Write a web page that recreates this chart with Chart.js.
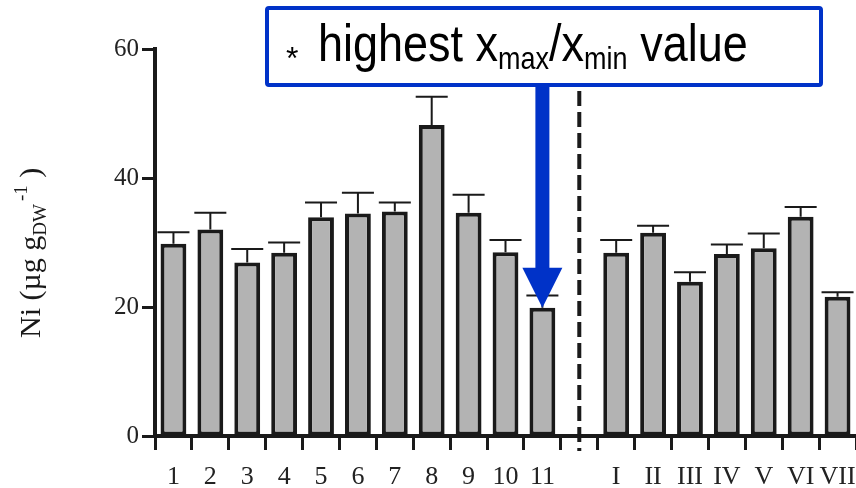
<!DOCTYPE html>
<html>
<head>
<meta charset="utf-8">
<script src="https://cdn.jsdelivr.net/npm/chart.js@4.4.0/dist/chart.umd.min.js"></script>
<style>
  html, body { margin: 0; padding: 0; background: #fff; }
  #wrap { width: 856px; height: 488px; }
</style>
</head>
<body>
<div id="wrap"><canvas id="myChart" width="856" height="488"></canvas></div>
<script>
// sites 1-11, an empty slot for the divider, then sites I-VII
const labels = ['1', '2', '3', '4', '5', '6', '7', '8', '9', '10', '11', '', 'I', 'II', 'III', 'IV', 'V', 'VI', 'VII'];
const means = [29.8, 32.0, 26.9, 28.4, 33.9, 34.5, 34.8, 48.2, 34.6, 28.5, 19.9, null, 28.4, 31.5, 23.9, 28.2, 29.1, 34.0, 21.6];
const upper = [31.6, 34.6, 29.0, 30.0, 36.2, 37.7, 36.2, 52.6, 37.4, 30.4, 21.8, null, 30.4, 32.6, 25.4, 29.7, 31.4, 35.5, 22.3];
const yTicks = [0, 20, 40, 60];
const gapIndex = 11;
const markedIndex = 10;

const ink = '#1a1a1a';
const blue = '#0032c8';
const serif = "'Liberation Serif', 'Times New Roman', serif";
const sans = "'Liberation Sans', Arial, sans-serif";

// draws text pieces one after another: [text, size, baseline shift]
function drawRuns(ctx, runs, family) {
    let x = 0;
    runs.forEach(r => {
        ctx.font = r[1] + 'px ' + family;
        ctx.fillText(r[0], x, r[2]);
        x += ctx.measureText(r[0]).width;
    });
}

const errorBars = {
    id: 'errorBars',
    afterDatasetsDraw(chart) {
        const ctx = chart.ctx;
        const y = chart.scales.y;
        const meta = chart.getDatasetMeta(0);
        ctx.save();
        ctx.strokeStyle = ink;
        ctx.lineWidth = 2;
        meta.data.forEach((bar, i) => {
            if (upper[i] == null) return;
            const top = y.getPixelForValue(upper[i]);
            const half = bar.width * 0.62;
            ctx.beginPath();
            ctx.moveTo(bar.x, bar.y);
            ctx.lineTo(bar.x, top);
            ctx.moveTo(bar.x - half, top);
            ctx.lineTo(bar.x + half, top);
            ctx.stroke();
        });
        ctx.restore();
    }
};

const extras = {
    id: 'extras',
    afterDraw(chart) {
        const ctx = chart.ctx;
        const xs = chart.scales.x;
        const ys = chart.scales.y;
        const area = chart.chartArea;
        ctx.save();

        // dashed divider
        const gx = xs.getPixelForValue(gapIndex);
        ctx.strokeStyle = ink;
        ctx.lineWidth = 4;
        ctx.setLineDash([15, 6]);
        ctx.beginPath();
        ctx.moveTo(gx, 91);
        ctx.lineTo(gx, area.bottom + 15);
        ctx.stroke();
        ctx.setLineDash([]);

        // y axis title
        ctx.save();
        ctx.translate(40, 338);
        ctx.rotate(-Math.PI / 2);
        ctx.fillStyle = ink;
        ctx.textBaseline = 'alphabetic';
        drawRuns(ctx, [['Ni (\u00b5g g', 30, 0], ['DW', 19, 6], [' ', 12, 0], ['-1', 19, -13], [' )', 30, 0]], serif);
        ctx.restore();

        // arrow to the marked bar
        const ax = xs.getPixelForValue(markedIndex);
        const tip = ys.getPixelForValue(means[markedIndex]);
        ctx.fillStyle = blue;
        ctx.fillRect(ax - 7, 85, 14, tip - 40 - 85 + 1);
        ctx.beginPath();
        ctx.moveTo(ax - 20, tip - 40);
        ctx.lineTo(ax + 20, tip - 40);
        ctx.lineTo(ax, tip);
        ctx.closePath();
        ctx.fill();

        // annotation box
        ctx.fillStyle = '#fff';
        ctx.strokeStyle = blue;
        ctx.lineWidth = 4;
        ctx.beginPath();
        ctx.roundRect(267, 8, 554, 77, 2);
        ctx.fill();
        ctx.stroke();

        ctx.fillStyle = '#000';
        ctx.font = '32px ' + sans;
        ctx.fillText('*', 286, 69);
        ctx.save();
        ctx.translate(318, 61);
        ctx.scale(1, 1.14);
        drawRuns(ctx, [['highest x', 45, 0], ['max', 27, 7], ['/x', 45, 0], ['min', 27, 7], [' value', 45, 0]], sans);
        ctx.restore();

        ctx.restore();
    }
};

new Chart('myChart', {
    type: 'bar',
    data: {
        labels: labels,
        datasets: [{
            data: means,
            backgroundColor: '#b3b3b3',
            borderColor: ink,
            borderWidth: 4,
            borderSkipped: false,
            barPercentage: 0.7,
            categoryPercentage: 1
        }]
    },
    options: {
        responsive: false,
        animation: false,
        devicePixelRatio: 1,
        layout: { padding: { top: 49, right: 0, bottom: 0, left: 0 } },
        plugins: {
            legend: { display: false },
            tooltip: { enabled: false }
        },
        scales: {
            x: {
                grid: { display: true, drawOnChartArea: false, tickLength: 14, tickWidth: 3, tickColor: ink },
                border: { display: true, width: 4, color: ink },
                ticks: { color: '#222', font: { family: serif, size: 26 }, padding: 12, maxRotation: 0, autoSkip: false },
                afterFit(scale) {
                    scale.height = 52;
                    // labels fit inside the category slots, no side padding needed
                    scale.paddingLeft = 0;
                    scale.paddingRight = 0;
                }
            },
            y: {
                min: 0,
                max: 60,
                afterBuildTicks(scale) { scale.ticks = yTicks.map(v => ({ value: v })); },
                grid: { display: true, drawOnChartArea: false, tickLength: 13, tickWidth: 3, tickColor: ink },
                border: { display: true, width: 4, color: ink },
                ticks: { color: '#222', font: { family: serif, size: 25 }, padding: 3 },
                afterFit(scale) { scale.width = 155; }
            }
        }
    },
    plugins: [errorBars, extras]
});
</script>
</body>
</html>
